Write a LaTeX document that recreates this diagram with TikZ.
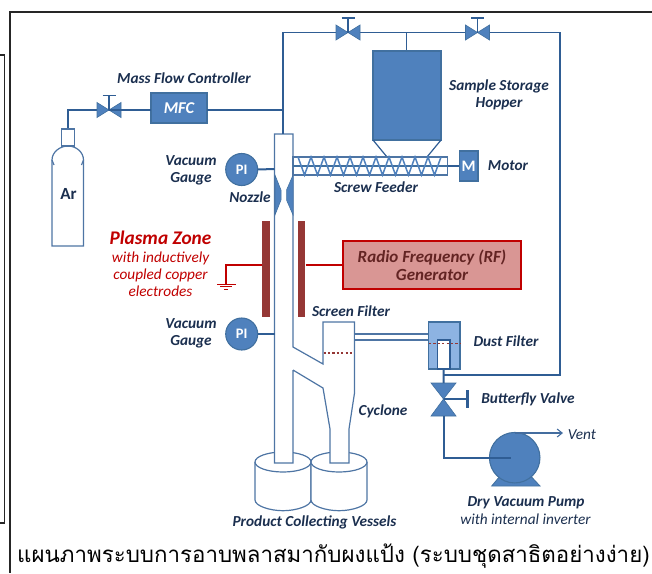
\documentclass[tikz,border=0pt]{standalone}
\usepackage{fontspec}
\usetikzlibrary{arrows.meta}
\setmainfont{Carlito}
\newfontfamily\thaifont[Script=Thai]{Loma}
\definecolor{pipec}{HTML}{2F5D94}
\definecolor{fillb}{HTML}{4F81BD}
\definecolor{edgeb}{HTML}{41709F}
\definecolor{lightb}{HTML}{8DB3E2}
\definecolor{labelc}{HTML}{1B2F4F}
\definecolor{redc}{HTML}{C00000}
\definecolor{brickc}{HTML}{953735}
\definecolor{genc}{HTML}{D99694}
\definecolor{gentext}{HTML}{632423}
\tikzset{
  pipe/.style={draw=pipec,line width=1.2pt},
  thickpipe/.style={draw=pipec,line width=2pt},
  wall/.style={draw=pipec!85!white,line width=1.2pt},
  solidb/.style={draw=edgeb,fill=fillb,line width=1.1pt,inner sep=0pt,outer sep=0pt},
  lab/.style={text=labelc,font=\fontsize{15.3}{16.8}\selectfont\bfseries\itshape,align=center,inner sep=0pt},
  plainlab/.style={font=\fontsize{15.3}{17}\selectfont\itshape,align=center,inner sep=0pt},
  redwire/.style={draw=redc,line width=1.2pt},
  dots/.style={draw=brickc,line width=1.6pt,dash pattern=on 2.2pt off 2.2pt},
  electrode/.style={fill=brickc,draw=none,inner sep=0pt,minimum width=7.5pt,minimum height=96pt},
  gatevalve/.pic={
    \fill[fillb,draw=edgeb,line width=.6pt] (-12,-7.5) -- (0,0) -- (-12,7.5) -- cycle;
    \fill[fillb,draw=edgeb,line width=.6pt] (12,-7.5) -- (0,0) -- (12,7.5) -- cycle;
    \draw[pipe] (0,0) -- (0,-14.5) (-6.5,-14.5) -- (6.5,-14.5);
  }
}
\begin{document}
\begin{tikzpicture}[x=1pt,y=-1pt]
\useasboundingbox (0,0) rectangle (652,573);
% frames
\draw[black!85,line width=1.3pt] (652,12) -- (10,12) -- (10,573);
\draw[black!85,line width=1.3pt] (0,55) -- (4.5,55) -- (4.5,523) -- (0,523);

% coordinates
\coordinate (topleft) at (283,32.5);
\coordinate (topright) at (560,32.5);
\coordinate (botright) at (560,375);
\coordinate (botleft) at (444,375);
\coordinate (hoptee) at (406.5,32.5);
\coordinate (massj) at (283,110);
\coordinate (v1) at (348,32.5);
\coordinate (v2) at (477.5,32.5);
\coordinate (v3) at (109,110);
\coordinate (arcorner) at (68,110);
\coordinate (artop) at (68,129);
\coordinate (torchtop) at (283,134);
\coordinate (bv) at (443.5,399);
\coordinate (bvbar) at (467.5,399);
\coordinate (pumpcorner) at (443.5,457.5);
\coordinate (ventstart) at (515,433);
\coordinate (ventend) at (563,433);
\coordinate (gndj) at (226,265);
\coordinate (gnd) at (226,284);
\coordinate (leftwallpi) at (274.5,169);
\coordinate (leftwallpib) at (274.5,334);

% vessels
\draw[wall,fill=white] (255,462) -- (255,500) .. controls (255,506) and (270,510.7) .. (283,510.7) .. controls (296,510.7) and (311,506) .. (311,500) -- (311,462);
\draw[wall,fill=white] (311,462) -- (311,500) .. controls (311,506) and (326,510.7) .. (339,510.7) .. controls (352,510.7) and (367,506) .. (367,500) -- (367,462);
\draw[wall,fill=white] (283,462) ellipse (28 and 10);
\draw[wall,fill=white] (339,462) ellipse (28 and 10);

% main pipes
\draw[pipe] (massj) -- (topleft) -- (topright) -- (botright) -- (botleft);
\draw[pipe] (hoptee) -- (406.5,51);
\draw[pipe] (artop) -- (arcorner) -- (v3);

% torch and cyclone body
\fill[white] (274.5,134) rectangle (293,463);
\fill[white] (323,322) rectangle (354.5,393);
\fill[white] (293,347) -- (323,364) -- (323,388) -- (293,370) -- cycle;
\fill[white] (323,388) -- (354.5,393) -- (349,429) -- (349,463) -- (330,463) -- (330,429) -- cycle;
\draw[wall] (293,370) -- (293,463) -- (274.5,463) -- (274.5,134) -- (293,134) -- (293,347) -- (323,364) -- (323,322) -- (354.5,322) -- (354.5,393) -- (349,429) -- (349,463) -- (330,463) -- (330,429) -- (323,388) -- (293,370);

% nozzle
\fill[fillb,draw=edgeb,line width=.5pt] (275,175) -- (281,190) -- (281,200) -- (275,215) -- cycle;
\fill[fillb,draw=edgeb,line width=.5pt] (293,175) -- (286.5,190) -- (286.5,200) -- (293,215) -- cycle;

% hopper
\node[solidb,minimum width=68pt,minimum height=89pt] (hopper) at (407,95.5) {};
\draw[pipe] (373,140) -- (387,157) (441,140) -- (427,157);

% screw feeder
\draw[wall,fill=white] (293,157) rectangle (447.5,175);
\draw[draw=edgeb,line width=1.1pt] (293,166) -- (447.5,166);
\draw[draw=fillb,line width=1.5pt] (298,157)
  \foreach \k in {1,...,11}{ -- ({298+13*\k-6.5},175) -- ({298+13*\k},157) };

% motor
\node[solidb,minimum width=18.5pt,minimum height=30pt,text=white,font=\fontsize{16}{16}\selectfont\bfseries] (motor) at (468.7,166) {M};
\coordinate (feedend) at (447.5,166);
\draw[thickpipe] (feedend) -- (motor.west);

% valves
\pic at (v1) {gatevalve};
\pic at (v2) {gatevalve};
\pic at (v3) {gatevalve};

% MFC
\node[solidb,minimum width=56pt,minimum height=30pt,text=white,font=\fontsize{16.5}{16.5}\selectfont\bfseries\itshape] (mfc) at (179,108) {MFC};
\draw[pipe] (v3) -- (mfc.west |- v3);
\draw[pipe] (mfc.east |- massj) -- (massj);
\draw[pipe] (massj) -- (torchtop);

% Ar bottle
\draw[wall,fill=white] (52,246) -- (52,160) .. controls (52,152) and (60,146) .. (68,146) .. controls (76,146) and (83.5,152) .. (83.5,160) -- (83.5,246) -- cycle;
\draw[wall] (52,160) -- (54,165) (83.5,160) -- (81.5,165);
\node[draw=pipec!85!white,line width=1.1pt,fill=white,minimum width=12.5pt,minimum height=17pt,inner sep=0pt] (arcap) at (68,137.5) {};
\node[text=labelc,font=\fontsize{17}{17}\selectfont\bfseries,inner sep=0pt] (artext) at (68.5,194) {Ar};

% gauges
\node[solidb,circle,minimum size=32pt,text=white,font=\fontsize{14.5}{14.5}\selectfont\bfseries] (pia) at (241.7,169.5) {PI};
\node[solidb,circle,minimum size=32pt,text=white,font=\fontsize{14.5}{14.5}\selectfont\bfseries] (pib) at (241.7,334) {PI};
\draw[thickpipe] (pia.east) -- (leftwallpi);
\draw[thickpipe] (pib.east) -- (leftwallpib);

% electrodes and RF
\node[electrode] (ela) at (266,269) {};
\node[electrode] (elb) at (301.7,269) {};
\node[draw=redc,fill=genc,line width=1.2pt,minimum width=178pt,minimum height=48pt,inner sep=0pt,text=gentext,align=center,font=\fontsize{17}{18}\selectfont\bfseries\itshape] (rf) at (432,265) {Radio Frequency (RF)\\Generator};
\draw[redwire] (elb.east |- rf.west) -- (rf.west);
\draw[redwire] (ela.west |- gndj) -- (gndj) -- (gnd);
\draw[redc,line width=.8pt] (217,284) -- (236,284) (220,286.5) -- (232,286.5) (224,289) -- (228,289);

% filter internals
\draw[dots] (323.5,352.7) -- (354,352.7);
\draw[wall,fill=white] (354.5,334) rectangle (428.5,340);
\node[draw=edgeb,fill=lightb,line width=1.1pt,minimum width=31.5pt,minimum height=47pt,inner sep=0pt] (dust) at (444.2,345.5) {};
\node[draw=pipec,fill=white,line width=1.1pt,minimum width=12.5pt,minimum height=29pt,inner sep=0pt] (dustin) at (443.7,354.5) {};
\draw[dots] (429,343.5) -- (460,343.5);

% butterfly valve
\fill[fillb,draw=edgeb,line width=.6pt] (431,383) -- (456,383) -- (443.5,399) -- cycle;
\fill[fillb,draw=edgeb,line width=.6pt] (431,416) -- (456,416) -- (443.5,399) -- cycle;
\draw[thickpipe] (dustin.south) -- (443.5,383);
\draw[thickpipe] (bv) -- (bvbar);
\draw[draw=pipec,line width=2.4pt] (467.5,390) -- (467.5,408);

% pump
\fill[fillb,draw=edgeb,line width=.8pt] (491.7,486) -- (505,470) -- (525,470) -- (540,486) -- cycle;
\node[solidb,circle,minimum size=50.5pt] (pump) at (514.7,457.7) {};
\draw[thickpipe] (443.5,416) -- (pumpcorner) -- (511,457.5);
\draw[draw=pipec!90!white,line width=1.1pt,-{Straight Barb[length=5pt,width=8pt]}] (ventstart) -- (ventend);

% labels
\node[lab] (lmass) at (184,78.5) {Mass Flow Controller};
\node[lab] (lvga) at (191,170.5) {Vacuum\\Gauge};
\node[lab] (lvgb) at (191,333) {Vacuum\\Gauge};
\node[lab] (lnoz) at (250,197.5) {Nozzle};
\node[lab,text=redc,font=\fontsize{19.3}{20}\selectfont\bfseries\itshape] (lplasma) at (160.5,237.5) {Plasma Zone};
\node[plainlab,text=redc] (lplasmb) at (160.5,274.5) {with inductively\\coupled copper\\electrodes};
\node[lab] (lhop) at (499,95) {Sample Storage\\Hopper};
\node[lab] (lmot) at (508,166) {Motor};
\node[lab] (lscr) at (376,187.5) {Screw Feeder};
\node[lab] (lscn) at (351,311) {Screen Filter};
\node[lab] (ldust) at (506,341) {Dust Filter};
\node[lab] (lbut) at (528,399.5) {Butterfly Valve};
\node[lab] (lcyc) at (383,411.5) {Cyclone};
\node[plainlab,text=labelc] (lvent) at (582,434.5) {Vent};
\node[lab] (ldry) at (526,502.5) {Dry Vacuum Pump};
\node[plainlab,text=labelc] (lint) at (525.5,519) {with internal inverter};
\node[lab] (lprod) at (314.5,522.5) {Product Collecting Vessels};
\node[anchor=base west,inner sep=0pt,text=black] (cap) at (17,562) {\thaifont\fontsize{22.3}{22.3}\selectfont แผนภาพระบบการอาบพลาสมากับผงแป้ง (ระบบชุดสาธิตอย่างง่าย)};
\end{tikzpicture}
\end{document}
